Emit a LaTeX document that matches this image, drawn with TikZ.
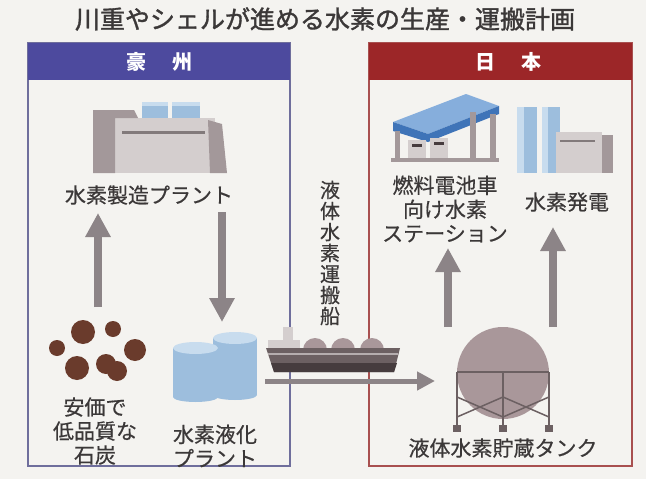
\documentclass[tikz,border=0pt]{standalone}
\usepackage{fontspec}
\setmainfont{Noto Sans CJK JP}
\newfontfamily\titlefont[FakeBold=1.4]{Noto Sans CJK JP}
\newfontfamily\lblfont[FakeBold=0.5]{Noto Sans CJK JP}
\usepackage{xcolor}
\usepackage{tikz}
\usetikzlibrary{arrows.meta}
\definecolor{paper}{HTML}{F4F3F0}
\definecolor{ink}{HTML}{3B3838}
\definecolor{ausblue}{HTML}{4D4A9E}
\definecolor{ausframe}{HTML}{6F6E9C}
\definecolor{jpred}{HTML}{9C2628}
\definecolor{jpframe}{HTML}{A85050}
\definecolor{flowgrey}{HTML}{8C8487}
\definecolor{wall}{HTML}{D4CECE}
\definecolor{walldark}{HTML}{A3989A}
\definecolor{tankblue}{HTML}{9DBEDD}
\definecolor{tanklight}{HTML}{C8DCEE}
\definecolor{canopy}{HTML}{3F74B8}
\definecolor{canopytop}{HTML}{86AEDC}
\definecolor{coal}{HTML}{6A3B2C}
\definecolor{hull}{HTML}{6C6062}
\definecolor{hulldark}{HTML}{463C3E}
\definecolor{sphere}{HTML}{A9979A}
\tikzset{
  lbl/.style={text=ink, font=\lblfont\fontsize{21}{24}\selectfont, align=center, inner sep=0pt},
  vlbl/.style={text=ink, font=\lblfont\fontsize{20}{21}\selectfont, align=center, inner sep=0pt},
  hdr/.style={text=white, font=\fontsize{20}{20}\selectfont\bfseries, inner sep=0pt},
  ausline/.style={draw=ausframe, line width=1.6pt},
  jpline/.style={draw=jpframe, line width=1.6pt},
  flow/.style={draw=flowgrey, line width=8pt, -{Triangle[length=24pt,width=24pt]}},
  shipflow/.style={draw=flowgrey, line width=5pt, -{Triangle[length=18pt,width=18pt]}},
  strut/.style={draw=hull, line width=1.5pt}
}

\begin{document}
\begin{tikzpicture}[x=1pt,y=-1pt]
  \useasboundingbox (0,0) rectangle (646,479);
  \fill[paper] (0,0) rectangle (646,479);

  \node[text=ink, font=\titlefont\fontsize{25}{25}\selectfont, inner sep=0pt] (title) at (325,19)
    {川重やシェルが進める水素の生産・運搬計画};

  % panels
  \draw[ausline] (28,43) rectangle (290,466);
  \fill[ausblue] (28,43) rectangle (290,80);
  \node[hdr] (aus) at (159,62) {豪\hspace{1.3em}州};
  \draw[jpline] (369,43) rectangle (632,466);
  \fill[jpred] (369,43) rectangle (632,80);
  \node[hdr] (jp) at (508,62) {日\hspace{1.3em}本};

  % production plant
  \fill[tankblue] (142,102) rectangle (168,119);
  \fill[tankblue] (172,102) rectangle (200,119);
  \fill[tanklight] (142,102) rectangle (168,106);
  \fill[tanklight] (172,102) rectangle (200,106);
  \fill[wall] (112,118) rectangle (215,173);
  \fill[walldark] (93,110) -- (134,110) -- (138,118) -- (115,118) -- (115,173) -- (93,173) -- cycle;
  \fill[walldark] (208,120) -- (222,124) -- (227,173) -- (210,173) -- cycle;
  \fill[walldark!80!black] (122,131) rectangle (205,134);

  % coal
  \fill[coal] (83,332) circle (12);
  \fill[coal] (113,329) circle (8);
  \fill[coal] (57,348) circle (8);
  \fill[coal] (135,350) circle (11);
  \fill[coal] (77,368) circle (12);
  \fill[coal] (106,364) circle (10);
  \fill[coal] (117,371) circle (10);

  % liquefaction tanks
  \fill[tankblue] (213,338) rectangle (257,395);
  \fill[tankblue] (235,395) ellipse (22 and 5);
  \fill[tanklight] (235,338) ellipse (22 and 6);
  \fill[tankblue] (173,348) rectangle (218,397);
  \fill[tankblue] (195.5,397) ellipse (22.5 and 5);
  \fill[tanklight] (195.5,348) ellipse (22.5 and 6);

  % carrier
  \fill[wall] (268,340) rectangle (300,350);
  \fill[wall] (283,327) rectangle (293,341);
  \fill[sphere] (315,350) circle (12);
  \fill[sphere] (343,350) circle (12);
  \fill[sphere] (372,350) circle (12);
  \fill[hull] (266,348) -- (400,348) -- (394,372) -- (274,372) -- cycle;
  \fill[hulldark] (271,363) -- (397,363) -- (394,372) -- (274,372) -- cycle;
  \fill[wall!70!hull] (268,353) rectangle (398,355);

  % fuel cell station
  \fill[canopytop] (393,122) -- (466,94) -- (499,106) -- (428,134) -- cycle;
  \fill[canopy] (393,122) -- (428,134) -- (428,142) -- (393,131) -- cycle;
  \fill[canopy] (428,134) -- (499,106) -- (499,114) -- (428,142) -- cycle;
  \fill[walldark] (395,131) rectangle (400,160);
  \fill[walldark] (470,112) rectangle (476,160);
  \fill[walldark] (490,114) rectangle (496,160);
  \fill[wall] (408,140) rectangle (426,160);
  \fill[wall] (430,138) rectangle (448,160);
  \fill[hulldark] (412,144) rectangle (422,147);
  \fill[hulldark] (434,142) rectangle (444,145);
  \fill[walldark] (391,158) rectangle (499,162);

  % power plant
  \fill[tankblue] (517,107) rectangle (537,173);
  \fill[tankblue] (542,107) rectangle (560,173);
  \fill[tanklight] (517,107) rectangle (524,173);
  \fill[tanklight] (542,107) rectangle (548,173);
  \fill[wall] (556,132) rectangle (602,173);
  \fill[walldark] (602,135) rectangle (613,173);
  \fill[walldark!80!black] (560,140) rectangle (595,142);

  % storage tank
  \fill[sphere] (503,373) circle (46);
  \draw[strut] (457,372) -- (549,372);
  \foreach \x in {457,503,549} {
    \draw[strut] (\x,372) -- (\x,427);
    \fill[hull] (\x-4,425) rectangle (\x+4,432);
  }
  \draw[strut] (457,397) -- (503,417) -- (549,397);
  \draw[strut] (457,417) -- (503,397) -- (549,417);

  % labels
  \node[lbl] (prod) at (149,195) {水素製造プラント};
  \node[lbl] (coaltxt) at (95,431) {安価で\\低品質な\\石炭};
  \node[lbl] (liq) at (215,446) {水素液化\\プラント};
  \node[vlbl] (shiptxt) at (330,253) {液\\体\\水\\素\\運\\搬\\船};
  \node[lbl] (station) at (445,209) {燃料電池車\\向け水素\\ステーション};
  \node[lbl] (power) at (567,202) {水素発電};
  \node[lbl] (tank) at (503,448) {液体水素貯蔵タンク};

  % flows
  \coordinate (coal top) at (98,307);
  \coordinate (prod foot) at (98,213);
  \coordinate (prod out) at (222,212);
  \coordinate (liq top) at (222,322);
  \coordinate (port) at (265,381);
  \coordinate (tank in) at (435,381);
  \coordinate (tank l) at (448,327);
  \coordinate (station foot) at (448,248);
  \coordinate (tank r) at (553,327);
  \coordinate (power foot) at (553,227);
  \draw[flow] (coal top) -- (prod foot);
  \draw[flow] (prod out) -- (liq top);
  \draw[shipflow] (port) -- (tank in);
  \draw[flow] (tank l) -- (station foot);
  \draw[flow] (tank r) -- (power foot);
\end{tikzpicture}
\end{document}
